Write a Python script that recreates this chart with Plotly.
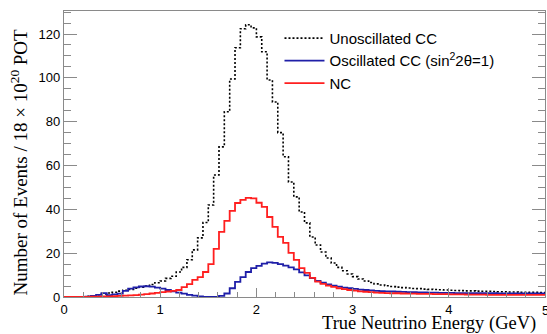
import plotly.graph_objects as go

# 90 bins from 0 to 5 GeV
n_bins = 90
e_min, e_max = 0.0, 5.0

unosc_cc = [0, 0, 0, 0.1, 0.3, 0.6, 1.0, 1.4, 1.8, 2.2,
            2.7, 3.1, 3.5, 4.0, 4.5, 5.0, 5.7, 6.5, 7.3, 8.5,
            9.5, 11.4, 13.5, 17.0, 21.5, 27.0, 34.0, 42.0, 55.7, 68.5,
            84.5, 99.5, 113.7, 122.4, 124.2, 122.8, 118.7, 111.9, 99.0, 89.0,
            75.0, 64.0, 52.5, 45.7, 38.8, 33.8, 27.4, 23.7, 20.5, 17.8,
            15.5, 13.5, 12.0, 10.5, 9.3, 8.2, 7.3, 6.6, 6.0, 5.5,
            5.1, 4.8, 4.5, 4.3, 4.1, 3.9, 3.8, 3.6, 3.5, 3.4,
            3.3, 3.2, 3.1, 3.0, 2.9, 2.8, 2.8, 2.7, 2.6, 2.6,
            2.5, 2.4, 2.4, 2.3, 2.3, 2.2, 2.2, 2.1, 2.1, 2.0]

osc_cc = [0, 0, 0, 0, 0.2, 0.5, 1.0, 1.8, 0.8, 1.2,
          1.5, 2.8, 3.8, 4.4, 4.8, 4.9, 4.7, 4.3, 3.8, 3.2,
          2.6, 2.0, 1.5, 1.0, 0.6, 0.3, 0.1, 0.05, 0.05, 0.5,
          1.6, 4.0, 6.9, 9.1, 11.4, 13.2, 14.2, 15.2, 15.8, 15.6,
          15.0, 14.3, 13.5, 12.6, 11.2, 9.9, 8.6, 7.4, 6.5, 5.8,
          5.2, 4.7, 4.3, 4.0, 3.7, 3.4, 3.2, 3.0, 2.8, 2.7,
          2.6, 2.5, 2.4, 2.3, 2.2, 2.2, 2.1, 2.1, 2.0, 2.0,
          1.9, 1.9, 1.9, 1.8, 1.8, 1.8, 1.7, 1.7, 1.7, 1.7,
          1.7, 1.6, 1.6, 1.6, 1.6, 1.6, 1.6, 1.6, 1.6, 1.6]

nc = [0.05, 0.05, 0.05, 0.1, 0.1, 0.15, 0.2, 0.25, 0.3, 0.4,
      0.5, 0.6, 0.7, 0.9, 1.1, 1.3, 1.6, 1.9, 2.2, 2.5,
      2.8, 3.2, 4.5, 5.9, 7.8, 9.1, 11.4, 15.0, 22.0, 29.7,
      34.7, 39.3, 42.9, 44.3, 45.2, 45.0, 43.0, 41.1, 36.5, 32.0,
      27.4, 24.7, 20.1, 16.9, 13.2, 11.0, 8.7, 7.0, 6.0, 5.2,
      4.6, 4.0, 3.6, 3.2, 2.9, 2.6, 2.4, 2.2, 2.0, 1.9,
      1.8, 1.7, 1.7, 1.6, 1.5, 1.5, 1.4, 1.4, 1.4, 1.3,
      1.3, 1.3, 1.2, 1.2, 1.2, 1.1, 1.1, 1.1, 1.1, 1.0,
      1.0, 1.0, 1.0, 1.0, 1.0, 1.0, 1.0, 1.0, 1.0, 1.0]

names = ["Unoscillated CC", "Oscillated CC (sin<sup>2</sup>2θ=1)", "NC"]
x_tick_vals = [0, 1, 2, 3, 4, 5]
y_tick_vals = [0, 20, 40, 60, 80, 100, 120]

width = (e_max - e_min) / n_bins
edges = [e_min + i * width for i in range(n_bins + 1)]


def step(vals):
    return edges, list(vals) + [vals[-1]]


fig = go.Figure()
styles = [
    dict(color="black", width=1.6, dash="2px,2px"),
    dict(color="#1f1fa8", width=1.8),
    dict(color="#ff1f1f", width=1.8),
]
for vals, name, st in zip([unosc_cc, osc_cc, nc], names, styles):
    xs, ys = step(vals)
    fig.add_trace(go.Scatter(x=xs, y=ys, mode="lines", line_shape="hv",
                             line=st, name=name))

axis_col = "#8a8a8a"
tick_font = dict(family="Liberation Sans, Arial, sans-serif", size=13, color="black")
fig.update_layout(
    width=547, height=334,
    margin=dict(l=64, r=2, t=11, b=37),
    paper_bgcolor="white", plot_bgcolor="white",
    font=tick_font,
    legend=dict(x=0.448, y=0.962, xanchor="left", yanchor="top",
                bgcolor="rgba(0,0,0,0)", font=dict(size=15),
                tracegroupgap=0, itemwidth=40),
    showlegend=True,
)
fig.update_xaxes(
    range=[e_min, e_max], tickvals=x_tick_vals[:-1], ticktext=[str(v) for v in x_tick_vals[:-1]],
    showgrid=False, zeroline=False, showline=True, linecolor=axis_col, linewidth=1.2,
    mirror=True, ticks="inside", ticklen=9, tickcolor=axis_col,
    minor=dict(dtick=0.2, ticks="inside", ticklen=5, tickcolor=axis_col, showgrid=False),
)
# last x tick label (partly cut by the page edge, as in the reference)
fig.add_annotation(
    text=str(x_tick_vals[-1]), xref="x", yref="paper", x=x_tick_vals[-1], y=-0.015,
    xanchor="center", yanchor="top", showarrow=False, font=tick_font,
)
fig.update_yaxes(
    range=[0, 130.5], tickvals=y_tick_vals, ticktext=[str(v) for v in y_tick_vals],
    showgrid=False, zeroline=False, showline=True, linecolor=axis_col, linewidth=1.2,
    mirror="ticks", ticks="inside", ticklen=13, tickcolor=axis_col,
    minor=dict(dtick=5, ticks="inside", ticklen=7, tickcolor=axis_col, showgrid=False),
)
fig.add_annotation(
    text="True Neutrino Energy (GeV)", xref="paper", yref="paper",
    x=0.985, y=-0.137, xanchor="right", yanchor="bottom", showarrow=False,
    font=dict(family="Liberation Serif, Times New Roman, serif", size=18.5),
)
fig.add_annotation(
    text="Number of Events / 18 × 10<sup>20</sup> POT", xref="paper", yref="paper",
    x=-0.122, y=0.945, xanchor="left", yanchor="top", textangle=-90, showarrow=False,
    font=dict(family="Liberation Serif, Times New Roman, serif", size=19),
)
fig.write_html("out.html")
